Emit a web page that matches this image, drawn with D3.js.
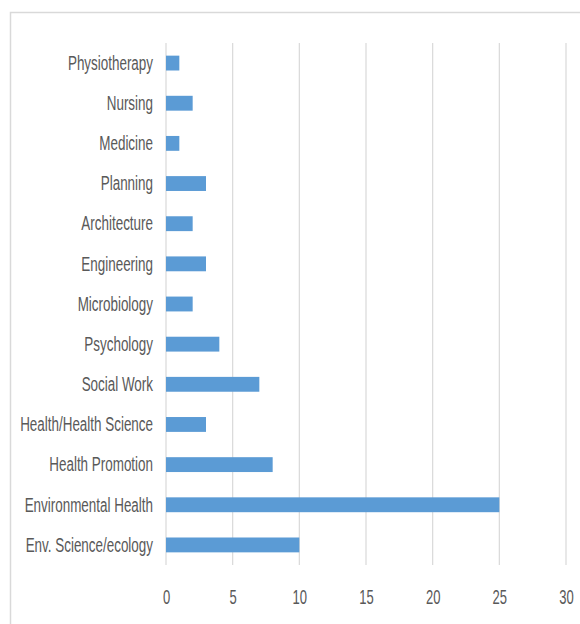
<!DOCTYPE html>
<html><head><meta charset="utf-8">
<script src="https://cdn.jsdelivr.net/npm/d3@7"></script>
<style>body{margin:0;background:#fff;} text{font-family:"Liberation Sans Narrow","Arial Narrow","Liberation Sans",sans-serif;}</style>
</head><body><svg id="c" width="580" height="624"></svg>
<script>
const categories = ["Physiotherapy","Nursing","Medicine","Planning","Architecture","Engineering","Microbiology","Psychology","Social Work","Health/Health Science","Health Promotion","Environmental Health","Env. Science/ecology"];
const values = [1,2,1,3,2,3,2,4,7,3,8,25,10];
const ticks = [0,5,10,15,20,25,30];

const svg = d3.select("#c");
svg.append("rect").attr("x",10.5).attr("y",12.5).attr("width",620).attr("height",640)
  .attr("fill","#fff").attr("stroke","#d9d9d9").attr("stroke-width",1.5);

const x = d3.scaleLinear().domain([0,30]).range([166,566]);
const y = d3.scaleBand().domain(categories).range([43,565]).paddingInner(0.63).paddingOuter(0.315);

const g = svg.append("g");
g.selectAll("line.grid").data(ticks).enter().append("line")
  .attr("x1",d=>x(d)).attr("x2",d=>x(d)).attr("y1",43).attr("y2",565)
  .attr("stroke","#d9d9d9").attr("stroke-width",1.2);

g.selectAll("rect.bar").data(values).enter().append("rect")
  .attr("x",x(0)).attr("y",(d,i)=>y(categories[i]))
  .attr("width",d=>x(d)-x(0)).attr("height",y.bandwidth())
  .attr("fill","#5b9bd5");

const yAxis = d3.axisLeft(y).tickSize(0).tickPadding(13);
const ya = svg.append("g").attr("transform",`translate(${x(0)},0)`).call(yAxis);
ya.select(".domain").remove();
ya.selectAll("text").attr("fill","#595959").style("font-size","21px")
  .attr("x",0).attr("transform","translate(-13,0) scale(0.64,1)");

const xAxis = d3.axisBottom(x).tickValues(ticks).tickSize(0).tickPadding(0);
const xa = svg.append("g").attr("transform",`translate(0,589)`).call(xAxis);
xa.select(".domain").remove();
xa.selectAll("text").attr("fill","#595959").style("font-size","21px")
  .attr("transform","scale(0.62,1)").attr("x",0);
</script></body></html>
